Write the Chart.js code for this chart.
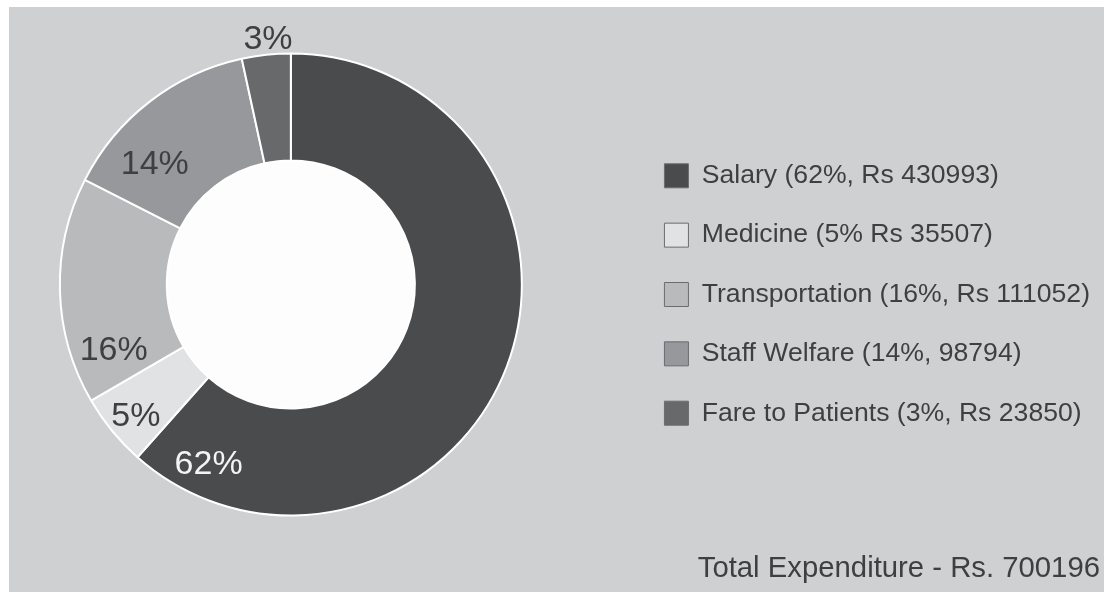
<!DOCTYPE html>
<html><head><meta charset="utf-8">
<script src="https://cdn.jsdelivr.net/npm/chart.js@4.4.1/dist/chart.umd.min.js"></script>
<style>
html,body{margin:0;padding:0;background:#ffffff;width:1104px;height:592px;overflow:hidden;position:relative;}
#bg{position:absolute;left:9px;top:7px;right:0;bottom:0;background:#cfd0d2;}
#c{position:absolute;left:-50px;top:0;}
</style></head><body>
<div id="bg"></div>
<canvas id="c" width="1154" height="592"></canvas>
<script>
// ---- data ----
const categories = ['Salary', 'Medicine', 'Transportation', 'Staff Welfare', 'Fare to Patients'];
const amounts = [430993, 35507, 111052, 98794, 23850];
const percentLabels = ['62%', '5%', '16%', '14%', '3%'];
const legendLabels = [
  'Salary (62%, Rs 430993)',
  'Medicine (5% Rs 35507)',
  'Transportation (16%, Rs 111052)',
  'Staff Welfare (14%, 98794)',
  'Fare to Patients (3%, Rs 23850)'
];
const totalLabel = 'Total Expenditure - Rs. 700196';

// ---- styles ----
const sliceColors = ['#4a4b4d', '#e1e2e4', '#b9babc', '#97989b', '#68696b'];
const pctColors = ['#f4f4f4', '#3e3f41', '#3e3f41', '#3e3f41', '#3e3f41'];
// fraction along slice angle (t) and fraction of outer radius (r) for percent text
const pctPlacement = [
  {t: 0.924, r: 0.850},
  {t: 0.455, r: 0.877},
  {t: 0.178, r: 0.816},
  {t: 0.292, r: 0.790},
  {t: 0.568, r: 1.072}
];
const FONT = '"Liberation Sans", Arial, Helvetica, sans-serif';

const holePlugin = {
  id: 'hole',
  beforeDatasetsDraw(chart) {
    const arc = chart.getDatasetMeta(0).data[0];
    if (!arc) return;
    const {x, y, innerRadius} = arc.getProps(['x', 'y', 'innerRadius'], true);
    const ctx = chart.ctx;
    ctx.save();
    ctx.beginPath();
    ctx.arc(x, y, innerRadius, 0, Math.PI * 2);
    ctx.fillStyle = '#fdfdfd';
    ctx.fill();
    ctx.restore();
  }
};

const pctPlugin = {
  id: 'pct',
  afterDatasetsDraw(chart) {
    const ctx = chart.ctx;
    const arcs = chart.getDatasetMeta(0).data;
    ctx.save();
    ctx.font = '34px ' + FONT;
    ctx.textAlign = 'center';
    ctx.textBaseline = 'middle';
    arcs.forEach((arc, i) => {
      const p = arc.getProps(['x', 'y', 'startAngle', 'endAngle', 'outerRadius'], true);
      const a = p.startAngle + pctPlacement[i].t * (p.endAngle - p.startAngle);
      const rr = pctPlacement[i].r * p.outerRadius;
      ctx.fillStyle = pctColors[i];
      ctx.fillText(percentLabels[i], p.x + rr * Math.cos(a), p.y + rr * Math.sin(a) + 2);
    });
    ctx.restore();
  }
};

new Chart(document.getElementById('c'), {
  type: 'doughnut',
  data: {
    labels: categories,
    datasets: [{
      data: amounts,
      backgroundColor: sliceColors,
      borderColor: '#ffffff',
      borderWidth: 2
    }]
  },
  plugins: [holePlugin, pctPlugin],
  options: {
    responsive: false,
    animation: false,
    radius: 231,
    cutout: '53.7%',
    layout: {padding: {left: 0, right: 4, top: 10, bottom: 13}},
    plugins: {
      tooltip: {enabled: false},
      legend: {
        position: 'right',
        align: 'center',
        labels: {
          boxWidth: 24,
          boxHeight: 24,
          padding: 32.75,
          color: '#3e3f41',
          font: {size: 26.6, family: FONT},
          generateLabels() {
            return legendLabels.map((text, i) => ({
              text,
              fillStyle: sliceColors[i],
              strokeStyle: '#6b6c6e',
              lineWidth: 1,
              fontColor: '#3e3f41',
              hidden: false,
              index: i
            }));
          }
        }
      },
      title: {
        display: true,
        position: 'bottom',
        align: 'end',
        text: totalLabel,
        color: '#3e3f41',
        padding: 0,
        font: {size: 29.3, family: FONT, weight: 'normal', lineHeight: '20px'}
      }
    }
  }
});
</script>
</body></html>
